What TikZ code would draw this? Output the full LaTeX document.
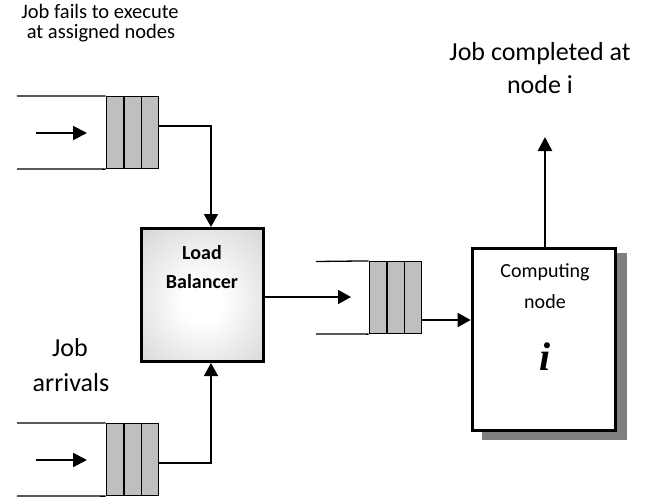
\documentclass[tikz,border=0pt]{standalone}
\usepackage{fontspec}
\setmainfont{Carlito}
\newfontfamily\serifbi{Liberation Serif}
\usetikzlibrary{arrows.meta}
\definecolor{cellgray}{RGB}{191,191,191}
\definecolor{shadowgray}{RGB}{128,128,128}
\definecolor{lbedge}{RGB}{200,200,200}
% soft glow: white centre fading to light grey at the box edges
\pgfdeclareradialshading{lbglow}{\pgfpoint{0bp}{-3bp}}{%
  color(0bp)=(white); color(8bp)=(white); color(46bp)=(lbedge); color(50bp)=(lbedge)}
\tikzset{
  cell/.style={draw, fill=cellgray, line width=1.2pt, minimum width=17.4pt,
               minimum height=72pt, inner sep=0pt},
  pipe/.style={line width=1.3pt},
  conn/.style={line width=1.7pt, -{Triangle[length=13pt,width=14pt]}},
  inflow/.style={line width=2pt, -{Triangle[length=14pt,width=14pt]}},
  lbbox/.style={draw, line width=3.3pt, shading=lbglow,
                minimum width=121.7pt, minimum height=132.7pt},
  cnbox/.style={draw, line width=3pt, fill=white, minimum width=143pt,
                minimum height=182pt},
  lbl/.style={inner sep=0pt, align=center},
}
\begin{document}
\begin{tikzpicture}[x=1pt, y=-1pt]
\useasboundingbox (0,0) rectangle (657,504);

% --- queue feeding back failed jobs (top) ---
\node[cell] (q1a) at (115,132.5) {};
\node[cell] (q1b) at (132.7,132.5) {};
\node[cell] (q1c) at (150,132.5) {};
\draw[pipe] (17,96) -- (q1a.north west);
\draw[pipe] (17,169) -- (q1a.south west);
\coordinate (q1s) at (36,133);
\coordinate (q1e) at (87,133);
\draw[inflow] (q1s) -- (q1e);

% --- queue of arriving jobs (bottom) ---
\node[cell] (q3a) at (115,459.5) {};
\node[cell] (q3b) at (132.7,459.5) {};
\node[cell] (q3c) at (150,459.5) {};
\draw[pipe] (17,423) -- (q3a.north west);
\draw[pipe] (17,496) -- (q3a.south west);
\coordinate (q3s) at (36,460);
\coordinate (q3e) at (87,460);
\draw[inflow] (q3s) -- (q3e);

% --- load balancer ---
\node[lbbox] (lb) at (202.5,295) {};
\node[lbl, font=\fontsize{20}{24}\selectfont\bfseries] (lbt1) at (202,253) {Load};
\node[lbl, font=\fontsize{20}{24}\selectfont\bfseries] (lbt2) at (202,282) {Balancer};

% --- queue in front of node i ---
\node[cell] (q2a) at (378,297.5) {};
\node[cell] (q2b) at (395.7,297.5) {};
\node[cell] (q2c) at (413,297.5) {};
\draw[pipe] (316,261.5) -- (q2a.north west);
\draw[pipe] (316,334) -- (q2a.south west);

% --- computing node with drop shadow ---
\fill[shadowgray] (482,253) rectangle (627,440);
\node[cnbox] (cn) at (543.7,339.4) {};
\node[lbl, font=\fontsize{20}{24}\selectfont] (cnt1) at (545,272) {Computing};
\node[lbl, font=\fontsize{20}{24}\selectfont] (cnt2) at (545,302) {node};
\node[lbl, font=\fontsize{40}{44}\selectfont\serifbi\bfseries\itshape] (cnt3) at (545,357) {i};

% --- connectors ---
\coordinate (q1out) at (158,126);
\draw[conn] (q1out) -| ([xshift=8.5pt]lb.north);
\coordinate (q3out) at (158,463);
\draw[conn] (q3out) -| ([xshift=8.5pt]lb.south);
\coordinate (q2in) at (351,297);
\draw[conn] (lb.east |- q2in) -- (q2in);
\coordinate (q2out) at (422,320);
\draw[conn] (q2out) -- (q2out -| cn.west);
\coordinate (done) at (545,137);
\draw[line width=2.6pt, -{Triangle[length=14pt,width=14pt]}] (cn.north -| done) -- (done);

% --- labels ---
\node[lbl, font=\fontsize{20.5}{24}\selectfont] (fail1) at (100,11) {Job fails to execute};
\node[lbl, font=\fontsize{20.5}{24}\selectfont] (fail2) at (101,33) {at assigned nodes};
\node[lbl, font=\fontsize{26}{30}\selectfont] (doneA) at (540,54) {Job completed at};
\node[lbl, font=\fontsize{26}{30}\selectfont] (doneB) at (540,85) {node i};
\node[lbl, font=\fontsize{26}{30}\selectfont] (arrA) at (70,348) {Job};
\node[lbl, font=\fontsize{26}{30}\selectfont] (arrB) at (71,383) {arrivals};
\end{tikzpicture}
\end{document}
